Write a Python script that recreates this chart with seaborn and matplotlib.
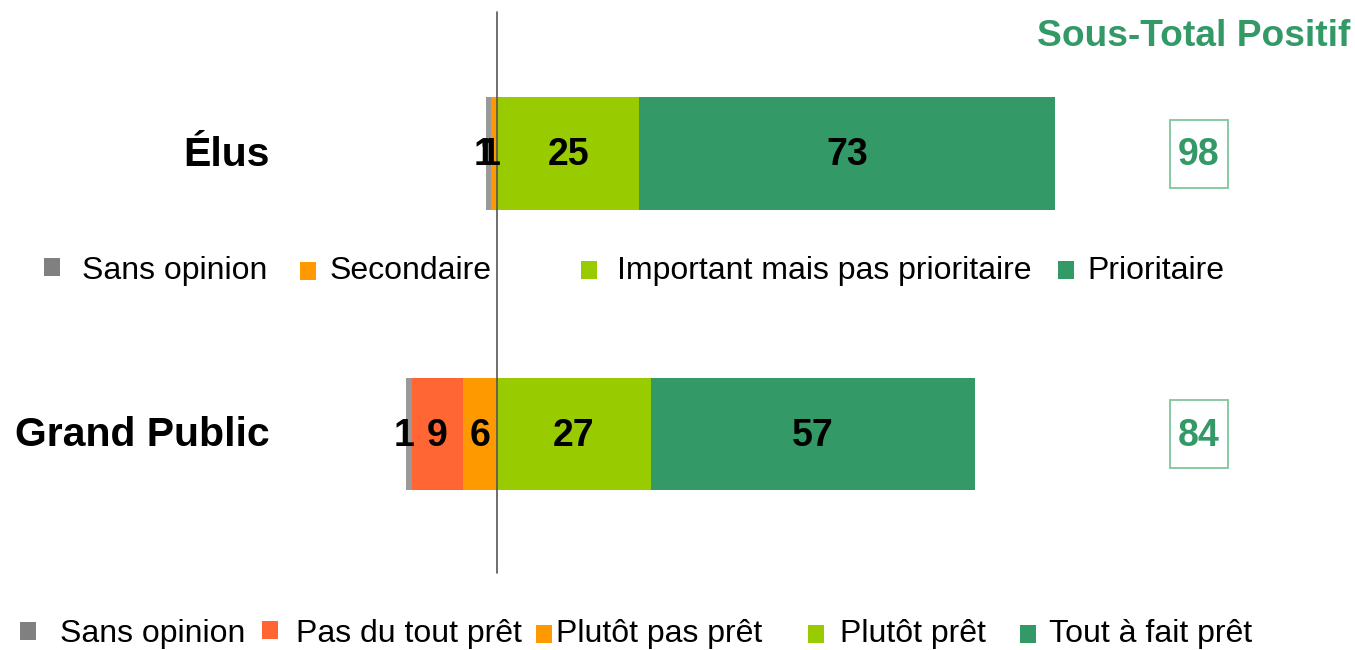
import numpy as np
import pandas as pd
import matplotlib
matplotlib.use("Agg")
import matplotlib.pyplot as plt
from matplotlib.patches import Rectangle
import seaborn as sns

# ---------------- data ----------------
categories = ["Élus", "Grand Public"]
sans_opinion = [1, 1]
neg_outer = [0, 9]      # Pas du tout prêt (Grand Public only)
neg_inner = [1, 6]      # Secondaire / Plutôt pas prêt
pos_inner = [25, 27]    # Important mais pas prioritaire / Plutôt prêt
pos_outer = [73, 57]    # Prioritaire / Tout à fait prêt
sous_total = [98, 84]

legend1_labels = ["Sans opinion", "Secondaire", "Important mais pas prioritaire", "Prioritaire"]
legend2_labels = ["Sans opinion", "Pas du tout prêt", "Plutôt pas prêt", "Plutôt prêt", "Tout à fait prêt"]
title_text = "Sous-Total Positif"

# ---------------- style ----------------
C_GRAY = "#999999"
C_GRAY_LEG = "#808080"
C_RED = "#FF6633"
C_ORANGE = "#FF9900"
C_LIME = "#99CC00"
C_GREEN = "#339966"

sns.set_style("white")
plt.rcParams["font.family"] = ["Liberation Sans", "DejaVu Sans"]

W, H = 1355, 650
fig = plt.figure(figsize=(W / 100, H / 100), dpi=100)
ax = fig.add_axes([0, 0, 1, 1])

sans = np.array(sans_opinion)
no = np.array(neg_outer)
ni = np.array(neg_inner)
pi = np.array(pos_inner)
po = np.array(pos_outer)

bar_w = 0.40
layers = [
    (-(sans + no + ni), C_GRAY),
    (-(no + ni), C_RED),
    (-ni, C_ORANGE),
    (pi + po, C_GREEN),
    (pi, C_LIME),
]
for vals, col in layers:
    df = pd.DataFrame({"cat": categories, "val": vals})
    sns.barplot(data=df, x="val", y="cat", orient="h", color=col,
                saturation=1, width=bar_w, errorbar=None, ax=ax, linewidth=0)

# scale: pixel mapping
px_per_unit = 5.69
x0_px = 497
ax.set_xlim(-x0_px / px_per_unit, (W - x0_px) / px_per_unit)
py_per_unit = 280.5
yc0_px = 153.5
ax.set_ylim(1 + (H - (yc0_px + py_per_unit)) / py_per_unit, -yc0_px / py_per_unit)
ax.axis("off")

# zero line
ax.axvline(0, ymin=1 - 573 / H, ymax=1 - 12 / H, color="#555555", lw=1.2, zorder=10)

# value labels
dy = 1.5 / py_per_unit
lab_kw = dict(ha="center", va="center", fontsize=27, fontweight="bold", color="black", zorder=11)
for i in range(len(categories)):
    segs = []
    left = -(sans[i] + no[i] + ni[i])
    for v in [sans[i], no[i], ni[i]]:
        segs.append((left, v))
        left += v
    left = 0
    for v in [pi[i], po[i]]:
        segs.append((left, v))
        left += v
    for k, (l, v) in enumerate(segs):
        if v <= 0:
            continue
        cx = l + v / 2
        if v <= 1:
            cx -= 0.8
        ax.text(cx, i + dy, f"{v}", **lab_kw)

# category labels
for i, c in enumerate(categories):
    ax.text((270 - x0_px) / px_per_unit, i + dy, c, ha="right", va="center",
            fontsize=29.5, fontweight="bold", color="black")

# sous-total boxes
box_cx = (1199 - x0_px) / px_per_unit
box_w = 58 / px_per_unit
box_h = 68 / py_per_unit
for i, v in enumerate(sous_total):
    ax.add_patch(Rectangle((box_cx - box_w / 2, i - box_h / 2), box_w, box_h,
                           fill=False, edgecolor="#7FC69A", lw=1.3, zorder=5))
    ax.text(box_cx, i + dy, f"{v}", ha="center", va="center", fontsize=27,
            fontweight="bold", color=C_GREEN)

fig.text(1350 / W, 1 - 36 / H, title_text, ha="right", va="center",
         fontsize=26.7, fontweight="bold", color=C_GREEN)

# legends (manual placement)
def legend_row(labels, colors, mark_x, text_x, mark_y, text_y):
    for lab, col, mx, tx, my in zip(labels, colors, mark_x, text_x, mark_y):
        fig.patches.append(Rectangle((mx / W, 1 - (my + 18) / H), 16 / W, 18 / H,
                                     transform=fig.transFigure, facecolor=col,
                                     edgecolor="none", figure=fig))
        fig.text(tx / W, 1 - text_y / H, lab, ha="left", va="center",
                 fontsize=23, color="black")

legend_row(legend1_labels, [C_GRAY_LEG, C_ORANGE, C_LIME, C_GREEN],
           [44, 300, 581, 1058], [82, 330, 617, 1087], [258, 262, 261, 261], 271)
legend_row(legend2_labels, [C_GRAY_LEG, C_RED, C_ORANGE, C_LIME, C_GREEN],
           [20, 262, 536, 808, 1020], [60, 296, 556, 840, 1049],
           [622, 621, 625, 625, 625], 634)

fig.savefig("out.png", dpi=100)
